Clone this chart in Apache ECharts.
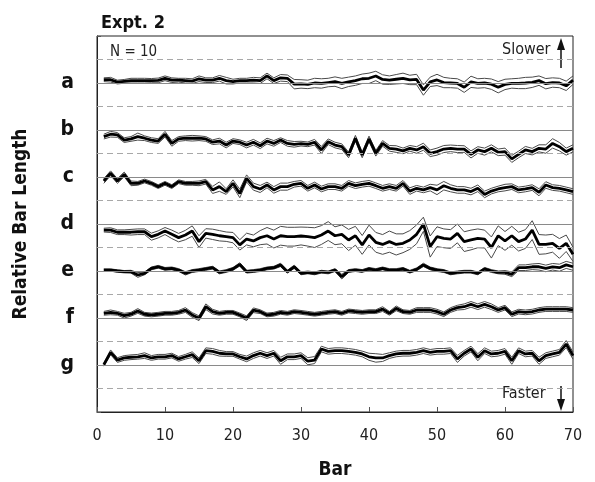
<!DOCTYPE html>
<html>
<head>
<meta charset="utf-8">
<script src="https://cdn.jsdelivr.net/npm/echarts@6/dist/echarts.min.js"></script>
<style>
    html, body { margin: 0; padding: 0; background: #fff; }
    #chart { width: 595px; height: 482px; }
</style>
</head>
<body>
<div id="chart"></div>
<script>
// bar numbers (x axis)
const bars = [1,2,3,4,5,6,7,8,9,10,11,12,13,14,15,16,17,18,19,20,21,22,23,24,25,26,27,28,29,30,
    31,32,33,34,35,36,37,38,39,40,41,42,43,44,45,46,47,48,49,50,51,52,53,54,55,56,57,58,59,60,
    61,62,63,64,65,66,67,68,69,70];
const xTicks = [0, 10, 20, 30, 40, 50, 60, 70];
const rowNames = ['a', 'b', 'c', 'd', 'e', 'f', 'g'];

// mean deviation from each row's baseline (thick line), in units of the dashed spacing
const aMean = [0.14,0.14,0.04,0.07,0.1,0.1,0.1,0.1,0.11,0.2, 0.12,0.12,0.1,0.08,0.18,0.12,0.12,0.2,0.1,0.06,
    0.1,0.1,0.12,0.1,0.3,0.1,0.22,0.2,-0.05,-0.04, -0.06,0.0,-0.02,0.02,0.06,-0.02,0.05,0.1,0.18,0.2,
    0.3,0.15,0.12,0.16,0.2,0.13,0.15,-0.3,0.05,0.13, 0.02,0.0,-0.02,-0.18,0.05,-0.02,0.0,-0.05,-0.18,-0.06,
    -0.02,-0.02,0.0,0.03,0.1,-0.03,0.02,0.0,-0.12,0.12];
const bMean = [-0.28,-0.18,-0.21,-0.43,-0.38,-0.28,-0.35,-0.43,-0.47,-0.18, -0.57,-0.38,-0.35,-0.35,-0.35,-0.38,-0.52,-0.47,-0.64,-0.47,
    -0.52,-0.64,-0.52,-0.67,-0.47,-0.57,-0.43,-0.57,-0.61,-0.58, -0.61,-0.52,-0.85,-0.5,-0.64,-0.71,-1.06,-0.35,-1.06,-0.38,
    -0.99,-0.57,-0.78,-0.81,-0.89,-0.78,-0.85,-0.71,-0.99,-0.92, -0.81,-0.78,-0.81,-0.81,-1.04,-0.85,-0.92,-0.78,-0.95,-0.92,
    -1.23,-1.04,-0.85,-0.92,-0.78,-0.81,-0.57,-0.71,-0.92,-0.78];
const cMean = [-0.17,0.16,-0.17,0.11,-0.27,-0.27,-0.17,-0.27,-0.41,-0.27, -0.41,-0.2,-0.27,-0.27,-0.27,-0.2,-0.55,-0.41,-0.62,-0.27,
    -0.7,-0.06,-0.41,-0.51,-0.34,-0.55,-0.41,-0.41,-0.31,-0.27, -0.48,-0.34,-0.51,-0.41,-0.41,-0.48,-0.27,-0.37,-0.31,-0.27,
    -0.37,-0.48,-0.41,-0.48,-0.27,-0.6,-0.48,-0.55,-0.45,-0.55, -0.37,-0.48,-0.55,-0.55,-0.62,-0.48,-0.74,-0.6,-0.51,-0.45,
    -0.41,-0.55,-0.51,-0.45,-0.65,-0.34,-0.45,-0.48,-0.55,-0.62];
const dMean = [-0.26,-0.26,-0.35,-0.35,-0.35,-0.33,-0.33,-0.54,-0.44,-0.3, -0.44,-0.58,-0.47,-0.3,-0.75,-0.4,-0.44,-0.5,-0.54,-0.58,
    -0.89,-0.64,-0.72,-0.58,-0.5,-0.64,-0.5,-0.54,-0.54,-0.51, -0.54,-0.58,-0.47,-0.3,-0.5,-0.44,-0.68,-0.5,-0.89,-0.47,
    -0.78,-0.87,-0.75,-0.87,-0.82,-0.68,-0.44,-0.01,-0.96,-0.54, -0.61,-0.64,-0.4,-0.75,-0.68,-0.61,-0.64,-1.0,-0.5,-0.72,
    -0.5,-0.75,-0.64,-0.26,-0.87,-0.87,-0.82,-1.04,-0.82,-1.29];
const eMean = [0.04,0.04,0,-0.03,-0.03,-0.17,-0.1,0.11,0.18,0.09, 0.11,0.04,-0.1,0,0.04,0.09,0.14,-0.06,0,0.09,
    0.28,-0.03,0,0.04,0.11,0.14,0.26,-0.03,0.18,-0.1, -0.06,-0.1,-0.03,-0.06,0.04,-0.24,0,0.04,0,0.09,
    0.04,0.11,0.04,0.04,0.09,-0.03,0.07,0.26,0.11,0.04, 0,-0.1,-0.06,-0.03,-0.03,-0.1,0.09,0,-0.06,-0.06,
    -0.14,0.14,0.14,0.18,0.18,0.11,0.18,0.14,0.26,0.18];
const fMean = [0.2,0.24,0.2,0.1,0.16,0.3,0.16,0.13,0.16,0.2, 0.2,0.24,0.34,0.13,-0.01,0.48,0.27,0.2,0.24,0.24,
    0.13,-0.01,0.33,0.27,0.13,0.16,0.24,0.2,0.27,0.24, 0.2,0.16,0.2,0.24,0.27,0.2,0.3,0.27,0.24,0.27,
    0.27,0.38,0.2,0.41,0.27,0.24,0.34,0.34,0.34,0.27, 0.16,0.34,0.44,0.48,0.58,0.48,0.58,0.48,0.34,0.44,
    0.16,0.27,0.24,0.27,0.34,0.38,0.38,0.38,0.38,0.34];
const gMean = [0.01,0.54,0.21,0.3,0.33,0.35,0.4,0.3,0.35,0.35, 0.4,0.26,0.35,0.44,0.18,0.61,0.58,0.5,0.47,0.47,
    0.35,0.26,0.4,0.5,0.4,0.5,0.18,0.35,0.35,0.4, 0.16,0.21,0.68,0.58,0.61,0.61,0.58,0.54,0.47,0.35,
    0.3,0.3,0.4,0.47,0.5,0.5,0.54,0.61,0.54,0.58, 0.58,0.61,0.26,0.5,0.68,0.33,0.61,0.47,0.5,0.58,
    0.18,0.61,0.47,0.5,0.18,0.4,0.47,0.54,0.89,0.4];

// half-width of the thin band lines around each mean
const aSpread = [0.08,0.1,0.08,0.08,0.1,0.1,0.1,0.09,0.1,0.1, 0.1,0.08,0.1,0.1,0.12,0.1,0.1,0.12,0.14,0.1,
    0.1,0.1,0.12,0.12,0.12,0.12,0.14,0.14,0.2,0.18, 0.18,0.2,0.2,0.18,0.2,0.22,0.2,0.2,0.2,0.22,
    0.2,0.2,0.18,0.2,0.22,0.2,0.22,0.22,0.2,0.24, 0.22,0.2,0.2,0.22,0.24,0.2,0.2,0.22,0.24,0.22,
    0.2,0.22,0.24,0.22,0.2,0.22,0.2,0.2,0.2,0.18];
const bSpread = [0.1,0.12,0.1,0.1,0.1,0.15,0.1,0.1,0.1,0.12, 0.12,0.1,0.1,0.12,0.1,0.1,0.1,0.12,0.12,0.1,
    0.1,0.12,0.12,0.12,0.12,0.12,0.1,0.12,0.12,0.1, 0.1,0.12,0.15,0.12,0.12,0.12,0.12,0.12,0.12,0.12,
    0.12,0.12,0.12,0.14,0.12,0.12,0.14,0.15,0.14,0.15, 0.15,0.14,0.15,0.14,0.15,0.14,0.15,0.15,0.14,0.15,
    0.15,0.14,0.15,0.14,0.15,0.18,0.2,0.18,0.15,0.15];
const cSpread = [0.1,0.1,0.1,0.1,0.1,0.08,0.08,0.08,0.08,0.08, 0.08,0.08,0.08,0.08,0.1,0.1,0.15,0.2,0.12,0.15,
    0.18,0.15,0.15,0.15,0.12,0.14,0.15,0.15,0.12,0.12, 0.12,0.12,0.12,0.12,0.12,0.12,0.12,0.12,0.12,0.12,
    0.12,0.12,0.12,0.12,0.12,0.14,0.12,0.12,0.14,0.2, 0.18,0.15,0.14,0.14,0.14,0.14,0.14,0.12,0.12,0.14,
    0.12,0.12,0.12,0.12,0.15,0.14,0.12,0.12,0.12,0.12];
const dSpread = [0.08,0.1,0.1,0.1,0.12,0.12,0.12,0.15,0.15,0.15, 0.18,0.18,0.2,0.22,0.25,0.2,0.22,0.22,0.2,0.22,
    0.22,0.25,0.25,0.3,0.35,0.38,0.4,0.4,0.4,0.38, 0.4,0.42,0.4,0.4,0.38,0.4,0.45,0.4,0.4,0.42,
    0.42,0.42,0.45,0.45,0.4,0.4,0.4,0.3,0.45,0.42, 0.4,0.4,0.4,0.42,0.42,0.4,0.38,0.45,0.42,0.4,
    0.4,0.4,0.4,0.4,0.42,0.4,0.38,0.42,0.35,0.3];
const eSpread = [0.05,0.05,0.05,0.05,0.06,0.1,0.06,0.06,0.06,0.06, 0.06,0.06,0.07,0.06,0.06,0.06,0.06,0.06,0.06,0.06,
    0.07,0.06,0.06,0.06,0.06,0.06,0.07,0.06,0.07,0.06, 0.06,0.06,0.06,0.06,0.06,0.1,0.06,0.06,0.06,0.06,
    0.06,0.06,0.06,0.06,0.06,0.06,0.06,0.07,0.06,0.06, 0.06,0.06,0.06,0.06,0.06,0.06,0.06,0.06,0.06,0.08,
    0.1,0.12,0.12,0.12,0.14,0.14,0.14,0.15,0.15,0.15];
const fSpread = [0.08,0.1,0.08,0.1,0.08,0.1,0.08,0.08,0.08,0.08, 0.08,0.08,0.1,0.1,0.1,0.12,0.1,0.08,0.08,0.08,
    0.08,0.1,0.1,0.08,0.08,0.08,0.08,0.08,0.08,0.08, 0.08,0.08,0.08,0.08,0.08,0.08,0.08,0.08,0.08,0.08,
    0.08,0.1,0.08,0.1,0.08,0.08,0.1,0.1,0.1,0.1, 0.1,0.1,0.1,0.12,0.12,0.12,0.12,0.12,0.1,0.1,
    0.1,0.1,0.1,0.1,0.1,0.1,0.1,0.1,0.1,0.1];
const gSpread = [0.06,0.1,0.1,0.1,0.1,0.1,0.12,0.1,0.1,0.1, 0.1,0.1,0.1,0.12,0.12,0.12,0.12,0.12,0.1,0.1,
    0.1,0.12,0.12,0.12,0.12,0.12,0.15,0.12,0.12,0.12, 0.15,0.15,0.12,0.12,0.12,0.12,0.12,0.12,0.12,0.15,
    0.18,0.15,0.12,0.12,0.12,0.12,0.12,0.12,0.12,0.12, 0.12,0.12,0.15,0.12,0.12,0.15,0.12,0.12,0.12,0.12,
    0.15,0.12,0.12,0.12,0.15,0.12,0.12,0.12,0.15,0.15];

const means = [aMean, bMean, cMean, dMean, eMean, fMean, gMean];
const spreads = [aSpread, bSpread, cSpread, dSpread, eSpread, fSpread, gSpread];
// baseline of each row on the stacked y axis (0..16)
const baselines = [14, 12, 10, 8, 6, 4, 2];
const dashedLines = [1, 3, 5, 7, 9, 11, 13, 15];

const FONT = "'DejaVu Sans Condensed', 'Open Sans', sans-serif";

document.addEventListener("DOMContentLoaded", function () {
    const chart = echarts.init(document.getElementById('chart'));

    const labelMap = {};
    baselines.forEach((b, i) => { labelMap[b] = rowNames[i]; });

    const gridLines = [];
    baselines.forEach(b => gridLines.push({ yAxis: b, lineStyle: { type: 'solid', color: '#8a8a8a', width: 1 } }));
    dashedLines.forEach(d => gridLines.push({ yAxis: d, lineStyle: { type: [6, 4], color: '#a8a8a8', width: 1 } }));

    const series = [];
    means.forEach((mean, i) => {
        const b = baselines[i];
        const sp = spreads[i];
        const upper = mean.map((v, k) => [bars[k], b + v + sp[k]]);
        const lower = mean.map((v, k) => [bars[k], b + v - sp[k]]);
        const mid = mean.map((v, k) => [bars[k], b + v]);
        const thin = { type: 'line', symbol: 'none', lineStyle: { color: '#4a4a4a', width: 1 }, silent: true };
        const up = Object.assign({}, thin, { name: rowNames[i] + ' upper', data: upper });
        if (i === 0) {
            up.markLine = {
                silent: true, symbol: ['none', 'none'], label: { show: false },
                data: gridLines, animation: false
            };
        }
        series.push(up);
        series.push(Object.assign({}, thin, { name: rowNames[i] + ' lower', data: lower }));
        series.push({
            name: rowNames[i], type: 'line', symbol: 'none', silent: true,
            lineStyle: { color: '#000', width: 2.8 }, data: mid
        });
    });

    chart.setOption({
        animation: false,
        textStyle: { fontFamily: FONT },
        title: {
            text: 'Expt. 2', left: 96, top: 9,
            textStyle: { fontFamily: FONT, fontSize: 18, fontWeight: 'bold', color: '#111' }
        },
        grid: {
            left: 97, right: 22, top: 36, bottom: 70,
            outerBoundsMode: 'none',
            show: true, borderColor: '#222', borderWidth: 1
        },
        xAxis: {
            type: 'value', min: xTicks[0], max: xTicks[xTicks.length - 1], interval: 10,
            name: 'Bar', nameLocation: 'middle', nameGap: 49,
            nameTextStyle: { fontFamily: FONT, fontSize: 19, fontWeight: 'bold', color: '#111' },
            axisLine: { lineStyle: { color: '#222' } },
            axisTick: { inside: true, length: 5, lineStyle: { color: '#555' } },
            axisLabel: { fontFamily: FONT, fontSize: 16, color: '#222', margin: 16 },
            splitLine: { show: false }
        },
        yAxis: {
            type: 'value', min: 0, max: 16, interval: 1,
            name: 'Relative Bar Length', nameLocation: 'middle', nameGap: 66, nameRotate: 90,
            nameTextStyle: { fontFamily: FONT, fontSize: 19, fontWeight: 'bold', color: '#111' },
            axisLine: { lineStyle: { color: '#222' } },
            axisTick: { inside: true, length: 4, lineStyle: { color: '#555' } },
            axisLabel: {
                formatter: v => labelMap[v] || '', margin: 23,
                fontFamily: FONT, fontSize: 21, fontWeight: 'bold', color: '#111'
            },
            splitLine: { show: false }
        },
        graphic: [
            {
                type: 'text', left: 110, top: 45,
                style: { text: 'N = 10', fontFamily: FONT, fontSize: 15, fill: '#222' }
            },
            {
                type: 'text', left: 502, top: 42,
                style: { text: 'Slower', fontFamily: FONT, fontSize: 16, fill: '#222' }
            },
            {
                type: 'text', left: 502, top: 386,
                style: { text: 'Faster', fontFamily: FONT, fontSize: 16, fill: '#222' }
            },
            { type: 'line', shape: { x1: 561, y1: 48, x2: 561, y2: 68 }, style: { stroke: '#111', lineWidth: 1.5 } },
            { type: 'polygon', shape: { points: [[561, 38], [557, 50], [565, 50]] }, style: { fill: '#111' } },
            { type: 'line', shape: { x1: 561, y1: 386, x2: 561, y2: 400 }, style: { stroke: '#111', lineWidth: 1.5 } },
            { type: 'polygon', shape: { points: [[561, 411], [557, 399], [565, 399]] }, style: { fill: '#111' } }
        ],
        series: series
    });
});
</script>
</body>
</html>
